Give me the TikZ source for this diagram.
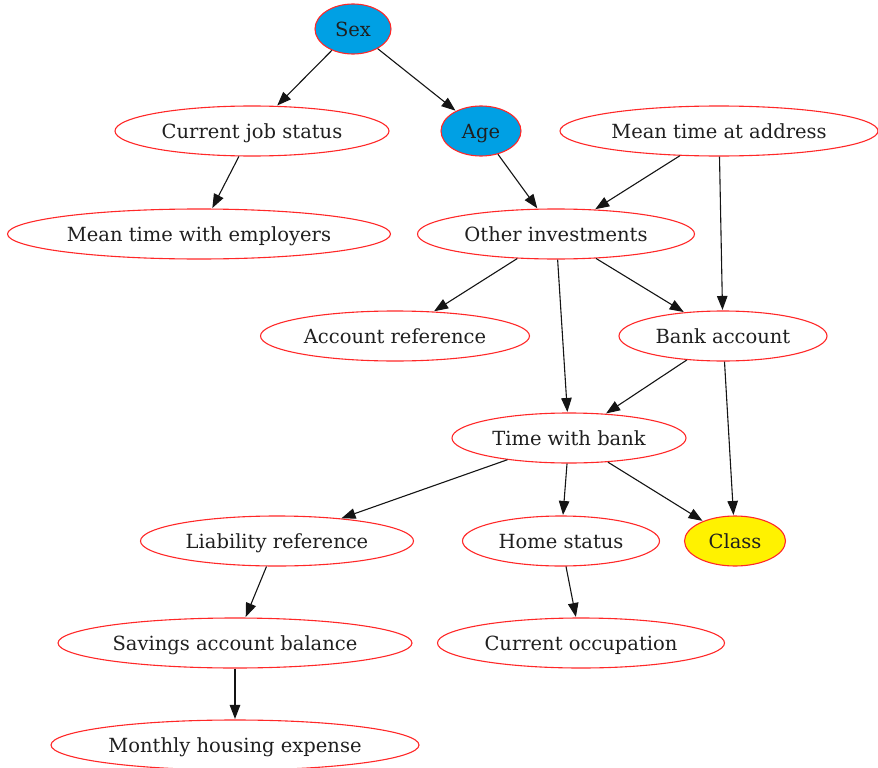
\documentclass[tikz,border=0pt]{standalone}
\usepackage{fontspec}
\setmainfont{DejaVu Serif}
\usetikzlibrary{shapes.geometric,arrows.meta}
\definecolor{nodeblue}{RGB}{0,160,228}
\definecolor{nodeyellow}{RGB}{255,242,0}
\definecolor{edgered}{RGB}{255,40,40}
\newcommand{\nlbl}[1]{\makebox[0pt]{#1}}
\begin{document}
\begin{tikzpicture}[x=1pt,y=-1pt,
  nd/.style={ellipse,draw=edgered,line width=1.1pt,inner sep=0pt,minimum height=50pt,
    font=\fontsize{19.5}{24}\selectfont,text=black!88,text height=16pt,text depth=1.5pt},
  conn/.style={-{Triangle[length=14pt,width=10.5pt]},line width=1.1pt,shorten >=0.5pt,draw=black!92}]
\useasboundingbox (0,0) rectangle (878,768);
\node[nd,fill=nodeblue,minimum width=76pt] (sex) at (353,29) {\nlbl{Sex}};
\node[nd,minimum width=274pt] (cjs) at (252,131) {\nlbl{Current job status}};
\node[nd,fill=nodeblue,minimum width=80pt] (age) at (481,131) {\nlbl{Age}};
\node[nd,minimum width=318pt] (mta) at (719,131) {\nlbl{Mean time at address}};
\node[nd,minimum width=383pt] (mte) at (199,234) {\nlbl{Mean time with employers}};
\node[nd,minimum width=277pt] (oi) at (556,234) {\nlbl{Other investments}};
\node[nd,minimum width=269pt] (ar) at (395,336) {\nlbl{Account reference}};
\node[nd,minimum width=208pt] (ba) at (723,336) {\nlbl{Bank account}};
\node[nd,minimum width=234pt] (twb) at (569,438) {\nlbl{Time with bank}};
\node[nd,minimum width=273pt] (lr) at (277,541) {\nlbl{Liability reference}};
\node[nd,minimum width=197pt] (hs) at (561,541) {\nlbl{Home status}};
\node[nd,fill=nodeyellow,minimum width=101pt] (cls) at (735,541) {\nlbl{Class}};
\node[nd,minimum width=354pt] (sab) at (235,643) {\nlbl{Savings account balance}};
\node[nd,minimum width=287pt] (co) at (581,643) {\nlbl{Current occupation}};
\node[nd,minimum width=368pt] (mhe) at (235,745) {\nlbl{Monthly housing expense}};
\draw[conn] (sex) -- (cjs);
\draw[conn] (sex) -- (age);
\draw[conn] (cjs) -- (mte);
\draw[conn] (age) -- (oi);
\draw[conn] (mta) -- (oi);
\draw[conn] (mta) -- (ba);
\draw[conn] (oi) -- (ar);
\draw[conn] (oi) -- (ba);
\draw[conn] (oi) -- (twb);
\draw[conn] (ba) -- (twb);
\draw[conn] (ba) -- (cls);
\draw[conn] (twb) -- (lr);
\draw[conn] (twb) -- (hs);
\draw[conn] (twb) -- (cls);
\draw[conn] (lr) -- (sab);
\draw[conn] (hs) -- (co);
\draw[conn] (sab) -- (mhe);
\end{tikzpicture}
\end{document}
